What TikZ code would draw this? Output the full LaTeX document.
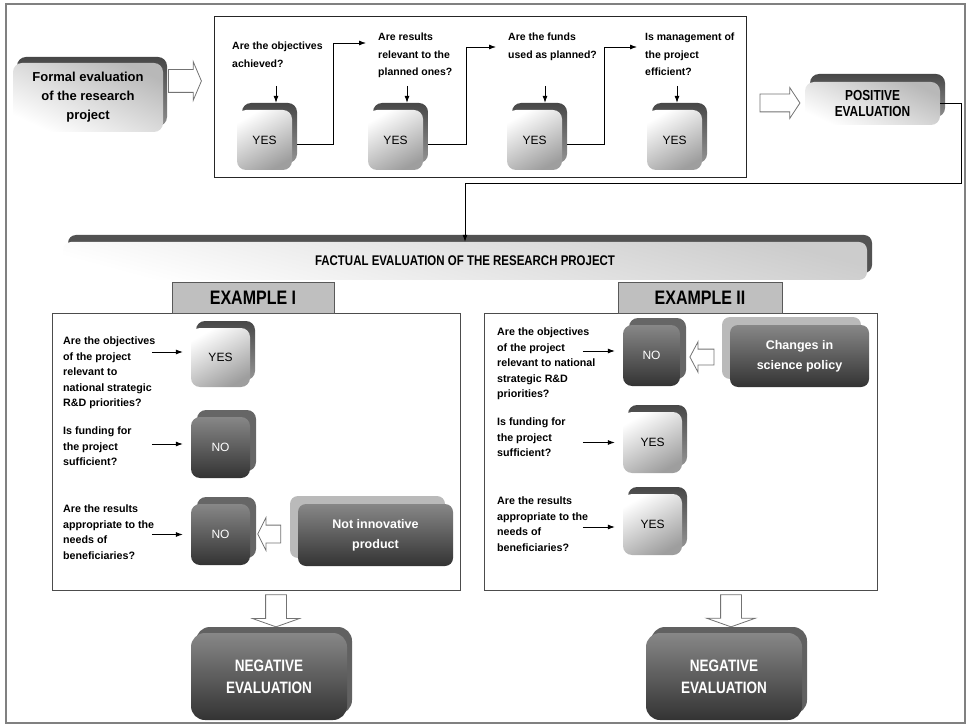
\documentclass[tikz,border=0pt]{standalone}
\usepackage{fontspec}
\setmainfont{Liberation Sans}
\newfontfamily\capfont[FakeStretch=0.82]{Liberation Sans}
\usetikzlibrary{arrows.meta,shapes.arrows,calc}

\begin{document}
\begin{tikzpicture}[x=1pt,y=-1pt,
  % back face of an extruded box, shifted up and to the side
  lifted/.style n args={3}{preaction={draw=none,#3,transform canvas={xshift=#1,yshift=#2}}},
  cube/.style={rounded corners=9pt, inner sep=0pt, align=center},
  lightA/.style={top color=white, bottom color=black!38, shading angle=30},
  lightB/.style={top color=black!28, bottom color=white, shading angle=-25},
  darkface/.style={top color=black!47, bottom color=black!80, text=white},
  yesbox/.style={cube, lightA, lifted={5pt}{7pt}{top color=black!72,bottom color=black!42},
    minimum height=60pt, font=\fontsize{12}{14}\selectfont},
  nobox/.style={cube, darkface, lifted={6pt}{7pt}{fill=black!60},
    minimum height=61pt, font=\fontsize{12}{14}\selectfont},
  causebox/.style={cube, rounded corners=8pt, darkface, lifted={-8pt}{8pt}{fill=black!27},
    font=\bfseries\fontsize{12.5}{20}\selectfont},
  verdict/.style={cube, rounded corners=14pt, darkface, lifted={5pt}{6pt}{fill=black!62},
    minimum width=156pt, minimum height=87pt, font=\capfont\bfseries\fontsize{16.5}{22}\selectfont},
  question/.style={anchor=north west, inner sep=0pt, align=left, font=\bfseries\fontsize{10.5}{17.5}\selectfont},
  exquestion/.style={question, font=\bfseries\fontsize{10.7}{15.4}\selectfont},
  tab/.style={draw=black!65, fill=black!25, line width=0.8pt, inner sep=0pt,
    minimum height=31pt, font=\capfont\bfseries\fontsize{19.5}{22}\selectfont},
  % hollow block arrow: inner ysep is half the shaft width
  hollow/.style={single arrow, draw=black!55, fill=white, line width=0.8pt, inner xsep=0pt},
  conn/.style={draw=black, line width=0.8pt, -{Latex[length=7pt,width=5pt]}},
]
\useasboundingbox (0,0) rectangle (969,727);

% outer frame
\draw[black!50, line width=2pt] (6,4) rectangle (965,723);

% ---------------- formal evaluation ----------------
\node[cube, lightB, lifted={4pt}{6pt}{top color=black!72,bottom color=black!45},
  minimum width=150pt, minimum height=69pt, font=\bfseries\fontsize{13}{19}\selectfont]
  (formal) at (88,97.5) {Formal evaluation\\of the research\\project};

\node[hollow, minimum height=33pt, inner ysep=11pt, single arrow head extend=8pt,
  single arrow tip angle=134] (h1) at (182.5,81) {};

\draw[black!85, line width=0.9pt] (214,16) rectangle (746,177);

\node[question] (q1) at (232,42) {Are the objectives\\achieved?};
\node[question] (q2) at (378,33) {Are results\\relevant to the\\planned ones?};
\node[question] (q3) at (508,33) {Are the funds\\used as planned?};
\node[question] (q4) at (645,33) {Is management of\\the project\\efficient?};

\node[yesbox, minimum width=55pt] (yes1) at (264.5,140) {YES};
\node[yesbox, minimum width=55pt] (yes2) at (395.5,140) {YES};
\node[yesbox, minimum width=55pt] (yes3) at (534.5,140) {YES};
\node[yesbox, minimum width=55pt] (yes4) at (674.5,140) {YES};

\draw[conn] ($(yes1.north)+(11.5pt,24pt)$) -- ($(yes1.north)+(11.5pt,7pt)$);
\draw[conn] ($(yes2.north)+(11.5pt,24pt)$) -- ($(yes2.north)+(11.5pt,7pt)$);
\draw[conn] ($(yes3.north)+(10.5pt,24pt)$) -- ($(yes3.north)+(10.5pt,7pt)$);
\draw[conn] ($(yes4.north)+(2.5pt,24pt)$) -- ($(yes4.north)+(2.5pt,7pt)$);

\draw[conn] ($(yes1.east)+(5pt,-4pt)$) -- ++(36,0) |- ($(q2.north west)+(-12pt,-10pt)$);
\draw[conn] ($(yes2.east)+(5pt,-4pt)$) -- ++(38,0) |- ($(q3.north west)+(-12pt,-14pt)$);
\draw[conn] ($(yes3.east)+(5pt,-4pt)$) -- ++(37,0) |- ($(q4.north west)+(-8pt,-14pt)$);

\node[hollow, minimum height=40pt, inner ysep=8.5pt, single arrow head extend=6.5pt,
  single arrow tip angle=113] (h2) at (777,103) {};

\node[cube, lightB, lifted={5pt}{8pt}{top color=black!72,bottom color=black!45},
  minimum width=135pt, minimum height=43pt, font=\capfont\bfseries\fontsize{14.5}{16}\selectfont]
  (pos) at (872.5,103.5) {POSITIVE\\EVALUATION};

% ---------------- factual evaluation ----------------
\node[cube, rounded corners=8pt, top color=black!20, bottom color=white, shading angle=-15,
  lifted={5pt}{7pt}{fill=black!68}, minimum width=804pt, minimum height=38pt,
  font=\capfont\bfseries\fontsize{14}{16}\selectfont]
  (banner) at (465,261) {FACTUAL EVALUATION OF THE RESEARCH PROJECT};

\coordinate (bend) at (961,183);
\draw[conn] (pos.east) -| (bend) -| (banner.north);

\draw[black!70, line width=0.9pt] (52,313) rectangle (460,590);
\draw[black!70, line width=0.9pt] (484,313) rectangle (877,590);
\node[tab, minimum width=162pt] (tab1) at (253,297.5) {EXAMPLE I};
\node[tab, minimum width=164pt] (tab2) at (700,297.5) {EXAMPLE II};

% example I
\node[exquestion] (e1q1) at (63,337) {Are the objectives\\of the project\\relevant to\\national strategic\\R\&D priorities?};
\node[exquestion] (e1q2) at (63,427) {Is funding for\\the project\\sufficient?};
\node[exquestion] (e1q3) at (63,505) {Are the results\\appropriate to the\\needs of\\beneficiaries?};

\node[yesbox, minimum width=59pt, minimum height=59pt] (e1y) at (220.5,357.5) {YES};
\node[nobox, minimum width=59pt] (e1n1) at (220.5,447.5) {NO};
\node[nobox, minimum width=59pt] (e1n2) at (220.5,534.5) {NO};

\draw[conn] ($(e1y.west)+(-39pt,5.5pt)$) -- ($(e1y.west)+(-8pt,5.5pt)$);
\draw[conn] ($(e1n1.west)+(-39pt,3.5pt)$) -- ($(e1n1.west)+(-8pt,3.5pt)$);
\draw[conn] ($(e1n2.west)+(-39pt,0pt)$) -- ($(e1n2.west)+(-8pt,0pt)$);

\node[causebox, minimum width=155pt, minimum height=62pt] (cause1) at (375.5,535) {Not innovative\\product};
\node[hollow, rotate=180, minimum height=23pt, inner ysep=8.5pt, single arrow head extend=7.5pt,
  single arrow tip angle=127] (h3) at (271.5,534) {};

% example II
\node[exquestion] (e2q1) at (497,328) {Are the objectives\\of the project\\relevant to national\\strategic R\&D\\priorities?};
\node[exquestion] (e2q2) at (497,418) {Is funding for\\the project\\sufficient?};
\node[exquestion] (e2q3) at (497,497) {Are the results\\appropriate to the\\needs of\\beneficiaries?};

\node[nobox, minimum width=57pt] (e2n) at (651.5,355.5) {NO};
\node[yesbox, minimum width=59pt, minimum height=61pt] (e2y1) at (652.5,442.5) {YES};
\node[yesbox, minimum width=59pt, minimum height=61pt] (e2y2) at (652.5,524.5) {YES};

\draw[conn] ($(e2n.west)+(-40pt,4.5pt)$) -- ($(e2n.west)+(-8pt,4.5pt)$);
\draw[conn] ($(e2y1.west)+(-40pt,0pt)$) -- ($(e2y1.west)+(-8pt,0pt)$);
\draw[conn] ($(e2y2.west)+(-40pt,-2.5pt)$) -- ($(e2y2.west)+(-8pt,-2.5pt)$);

\node[causebox, minimum width=139pt, minimum height=62pt] (cause2) at (799.5,356) {Changes in\\science policy};
\node[hollow, rotate=180, minimum height=24pt, inner ysep=7.5pt, single arrow head extend=7.5pt,
  single arrow tip angle=124] (h4) at (704,357) {};

% verdicts
\node[hollow, rotate=270, minimum height=32pt, inner ysep=10pt, single arrow head extend=13pt,
  single arrow tip angle=141] (h5) at (276,609) {};
\node[hollow, rotate=270, minimum height=32pt, inner ysep=10pt, single arrow head extend=14pt,
  single arrow tip angle=141] (h6) at (731,609) {};

\node[verdict] (neg1) at (269,676.5) {NEGATIVE\\EVALUATION};
\node[verdict] (neg2) at (724,676.5) {NEGATIVE\\EVALUATION};
\end{tikzpicture}
\end{document}
